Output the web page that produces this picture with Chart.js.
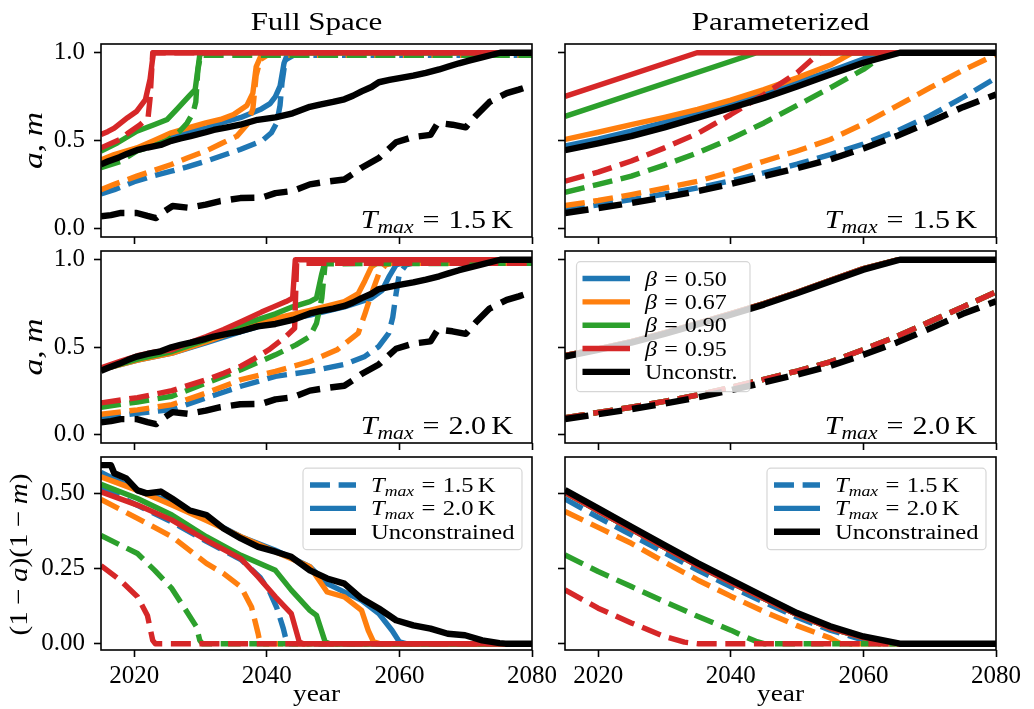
<!DOCTYPE html>
<html>
<head>
<meta charset="utf-8">
<script src="https://cdn.jsdelivr.net/npm/chart.js@4.4.1/dist/chart.umd.min.js"></script>
<style>
  html, body { margin: 0; padding: 0; background: #ffffff; }
  #wrap { position: relative; width: 1034px; height: 709px; overflow: hidden; background: #ffffff; }
  #wrap canvas { position: absolute; left: 0; top: 0; }
</style>
</head>
<body>
<div id="wrap">
  <canvas id="c0" width="1034" height="709"></canvas>
  <canvas id="c1" width="1034" height="709"></canvas>
  <canvas id="c2" width="1034" height="709"></canvas>
  <canvas id="c3" width="1034" height="709"></canvas>
  <canvas id="c4" width="1034" height="709"></canvas>
  <canvas id="c5" width="1034" height="709"></canvas>
</div>
<script>
// ---------- labels and ticks ----------
const X_TICKS = [2020, 2040, 2060, 2080];
const Y_TICKS_AM = [0, 0.5, 1.0];
const Y_TICKS_PROD = [0, 0.25, 0.5];
const BETA_LABELS = ['0.50', '0.67', '0.90', '0.95'];
const TMAX_LABELS = ['1.5', '2.0'];
const COLUMN_TITLES = ['Full Space', 'Parameterized'];
const BETA_COLORS = ['#1f77b4', '#ff7f0e', '#2ca02c', '#d62728'];
const UNC_COLOR = '#000000';

// ---------- Full space, T_max = 1.5 K  (solid: a, dashed: m) ----------
const full15_b050_solid = [[2015,.37],[2017,.40],[2020,.445],[2023,.49],[2025.6,.522],[2028,.548],[2030.8,.57],[2033,.6],[2036,.63],[2039.2,.68],[2040.5,.71],[2041.3,.75],[2042,.81],[2042.6,.94],[2043,.98],[2044,1],[2080,1]];
const full15_b050_dashed = [[2015,.196],[2017,.22],[2020,.265],[2023,.3],[2025.6,.325],[2028,.35],[2030.8,.382],[2033,.41],[2036,.449],[2039.2,.496],[2040.7,.544],[2041.5,.6],[2042,.7],[2042.3,.83],[2042.8,.96],[2044,.985],[2080,.985]];
const full15_b067_solid = [[2015,.39],[2017,.42],[2020.4,.458],[2023,.5],[2025.6,.544],[2028,.57],[2030.8,.6],[2033,.62],[2035,.648],[2037,.7],[2037.9,.77],[2038.4,.92],[2039.2,.99],[2040,1],[2080,1]];
const full15_b067_dashed = [[2015,.22],[2017,.25],[2020.4,.297],[2023,.33],[2025.6,.363],[2028,.4],[2030.8,.44],[2033,.48],[2035.5,.525],[2037,.59],[2037.9,.68],[2038.4,.87],[2039,.96],[2040,.985],[2080,.985]];
const full15_b090_solid = [[2015,.44],[2017.5,.487],[2020.4,.553],[2023,.59],[2025,.62],[2026.5,.68],[2028.2,.75],[2029.2,.79],[2029.9,.99],[2030.5,1],[2080,1]];
const full15_b090_dashed = [[2015,.345],[2017.9,.38],[2020.4,.44],[2023,.47],[2025,.5],[2026.8,.55],[2028,.6],[2028.9,.66],[2029.3,.72],[2029.6,.9],[2030,.985],[2080,.985]];
const full15_b095_solid = [[2015,.534],[2016,.55],[2017,.57],[2018,.6],[2019,.63],[2020.4,.667],[2021.7,.733],[2022.4,.85],[2022.9,1],[2080,1]];
const full15_b095_dashed = [[2015,.458],[2016,.475],[2017.9,.506],[2019,.54],[2020.9,.59],[2022.1,.63],[2022.4,.74],[2022.8,1],[2080,1]];

// ---------- Full space, T_max = 2.0 K ----------
const full20_b050_solid = [[2015,.37],[2020.5,.425],[2025.7,.465],[2030.9,.525],[2036.1,.588],[2041.3,.645],[2046.5,.683],[2051.7,.73],[2055.8,.78],[2057.4,.825],[2058.4,.9],[2059.5,.97],[2061,.99],[2062,1],[2080,1]];
const full20_b050_dashed = [[2015,.095],[2020.5,.12],[2025.7,.142],[2030.9,.209],[2036.1,.275],[2041.3,.332],[2046.5,.36],[2051.7,.4],[2054.8,.446],[2056.9,.503],[2058.4,.58],[2059,.67],[2059.5,.806],[2060,.92],[2061,.97],[2062,.98],[2080,.98]];
const full20_b067_solid = [[2015,.37],[2020.5,.425],[2025.7,.465],[2030.9,.53],[2036.1,.6],[2041.3,.664],[2046.5,.71],[2051.7,.76],[2053.8,.806],[2054.8,.88],[2055.8,.96],[2057,.99],[2058,1],[2080,1]];
const full20_b067_dashed = [[2015,.115],[2020.5,.14],[2025.7,.17],[2030.9,.237],[2036.1,.313],[2041.3,.36],[2046.5,.417],[2050.6,.484],[2053.8,.58],[2054.8,.69],[2055.8,.806],[2056.9,.92],[2057.9,.97],[2059,.98],[2080,.98]];
const full20_b090_solid = [[2015,.37],[2020.5,.43],[2025.7,.474],[2030.9,.54],[2036.1,.626],[2041.3,.69],[2043.9,.73],[2046.5,.76],[2047.5,.78],[2048.3,.92],[2048.8,.99],[2049.5,1],[2080,1]];
const full20_b090_dashed = [[2015,.155],[2020.5,.185],[2025.7,.218],[2030.9,.294],[2036.1,.37],[2041.3,.455],[2044.4,.512],[2046.5,.56],[2047.5,.636],[2048.3,.78],[2048.8,.977],[2080,.98]];
const full20_b095_solid = [[2015,.38],[2018,.42],[2020.5,.45],[2023,.47],[2025.7,.484],[2028,.52],[2030.9,.56],[2033.5,.6],[2036.1,.645],[2039.2,.7],[2041,.73],[2042.9,.76],[2043.9,.78],[2044.3,1],[2080,1]];
const full20_b095_dashed = [[2015,.18],[2020.5,.21],[2025.7,.25],[2030.9,.313],[2033.5,.35],[2036.1,.39],[2038,.43],[2040.3,.484],[2042.9,.56],[2044.2,.607],[2044.5,.98],[2080,.98]];

// ---------- Full space, unconstrained (same in both temperature rows) ----------
const full_unc_solid = [[2015,.364],[2016,.38],[2017.8,.405],[2019,.425],[2020.4,.445],[2022,.46],[2024,.475],[2025.6,.498],[2027,.512],[2028.5,.525],[2030.8,.547],[2032,.56],[2034,.575],[2036,.59],[2038.6,.618],[2041.3,.632],[2043.9,.655],[2046.5,.692],[2048,.705],[2050,.72],[2051.7,.735],[2053,.755],[2054.3,.78],[2055.8,.805],[2056.9,.832],[2058.5,.845],[2060,.856],[2062.1,.87],[2064,.886],[2066,.905],[2067.4,.922],[2069,.94],[2070.5,.955],[2072.6,.975],[2075.2,1],[2080,1]];
const full_unc_dashed = [[2015,.068],[2016.5,.075],[2018,.087],[2020.4,.087],[2022,.07],[2023.3,.058],[2024.5,.095],[2025.8,.127],[2028.2,.117],[2030.8,.135],[2033,.155],[2036,.172],[2039.2,.174],[2041.3,.2],[2043.9,.212],[2046.5,.25],[2049,.265],[2051.7,.278],[2053,.31],[2054.3,.345],[2056.9,.4],[2059.5,.49],[2062.1,.52],[2064.7,.532],[2065.8,.6],[2068,.59],[2070,.575],[2071.5,.64],[2073.6,.72],[2076.2,.77],[2078,.79],[2080,.815]];

// ---------- Full space, (1-a)(1-m) ----------
const fullProd_b050_15 = [[2015,.52],[2020.5,.46],[2025.7,.405],[2030.9,.34],[2036.1,.28],[2039,.22],[2040.5,.17],[2041.5,.12],[2042.5,.05],[2043,.005],[2043.5,0],[2080,0]];
const fullProd_b050_20 = [[2015,.57],[2020.5,.51],[2025.7,.47],[2030.9,.415],[2036.1,.356],[2041.3,.311],[2046.5,.256],[2049.1,.2],[2054.3,.144],[2056.9,.1],[2058.9,.044],[2060,.006],[2061,0],[2080,0]];
const fullProd_b067_15 = [[2015,.48],[2020.5,.417],[2025.7,.356],[2030.9,.267],[2033.5,.233],[2036.1,.189],[2037.7,.122],[2038.7,.033],[2039,0],[2080,0]];
const fullProd_b067_20 = [[2015,.555],[2020.5,.51],[2025.7,.461],[2030.9,.41],[2036.1,.356],[2041.3,.306],[2046.5,.256],[2049.1,.172],[2051.7,.156],[2054.3,.111],[2055.3,.044],[2056.1,.006],[2057,0],[2080,0]];
const fullProd_b090_15 = [[2015,.36],[2020.5,.3],[2023.1,.244],[2025.7,.183],[2027.8,.111],[2029.4,.056],[2029.9,.011],[2030.3,0],[2080,0]];
const fullProd_b090_20 = [[2015,.53],[2020.5,.483],[2025.7,.428],[2030.9,.356],[2036.1,.294],[2041.3,.244],[2043.7,.178],[2046.5,.111],[2047.5,.094],[2048.8,.006],[2049.5,0],[2080,0]];
const fullProd_b095_15 = [[2015,.26],[2017.9,.211],[2020.5,.156],[2022,.094],[2022.8,.011],[2023.2,0],[2080,0]];
const fullProd_b095_20 = [[2015,.505],[2020.5,.461],[2025.7,.411],[2030.9,.344],[2036.1,.283],[2038.7,.222],[2041.3,.156],[2043.7,.1],[2044.9,.006],[2045.5,0],[2080,0]];
const fullProd_unc = [[2015,.594],[2016.5,.594],[2017,.567],[2018.8,.55],[2020.5,.51],[2021.9,.5],[2024,.506],[2025.7,.483],[2028.3,.444],[2030.9,.428],[2033.5,.383],[2036.1,.35],[2038.7,.322],[2041.3,.306],[2043.7,.289],[2046.5,.244],[2049.1,.217],[2051.7,.2],[2054.3,.15],[2056.9,.117],[2059.5,.078],[2062.1,.061],[2064.7,.05],[2067.3,.033],[2069.9,.028],[2072.5,.011],[2075.1,.002],[2076,0],[2080,0]];

// ---------- Parameterized, T_max = 1.5 K ----------
const par15_b050_solid = [[2015,.468],[2020,.508],[2025,.553],[2030,.603],[2035,.658],[2040,.713],[2045,.772],[2050,.832],[2055,.895],[2060,.965],[2063,1],[2080,1]];
const par15_b050_dashed = [[2015,.106],[2020,.133],[2025,.163],[2030,.195],[2035,.23],[2040,.27],[2045,.316],[2050,.365],[2055,.42],[2060,.48],[2065,.553],[2070,.64],[2075,.745],[2080,.857]];
const par15_b067_solid = [[2015,.506],[2020,.547],[2025,.591],[2030,.632],[2035,.677],[2040,.73],[2045,.79],[2050,.857],[2055,.93],[2058.3,1],[2080,1]];
const par15_b067_dashed = [[2015,.129],[2020,.158],[2025,.192],[2030,.228],[2035,.268],[2040,.32],[2045,.382],[2050,.44],[2055,.506],[2060,.595],[2065,.696],[2070,.8],[2075,.9],[2080,.99]];
const par15_b090_solid = [[2015,.637],[2043.9,1],[2080,1]];
const par15_b090_dashed = [[2015,.205],[2020,.25],[2025,.297],[2030,.36],[2035,.43],[2040,.51],[2045,.6],[2050,.7],[2055,.8],[2060,.905],[2063.5,1],[2080,1]];
const par15_b095_solid = [[2015,.751],[2034.9,1],[2080,1]];
const par15_b095_dashed = [[2015,.268],[2020,.32],[2025,.383],[2030,.458],[2035,.54],[2040,.648],[2045,.762],[2050,.886],[2053.4,1],[2080,1]];

// ---------- Parameterized, T_max = 2.0 K (all beta values coincide) ----------
const par20_beta_solid = [[2015,.451],[2020,.489],[2025,.531],[2030,.581],[2035,.636],[2040,.691],[2045,.749],[2050,.814],[2055,.882],[2060,.949],[2065.3,1],[2080,1]];
const par20_beta_dashed = [[2015,.095],[2020,.125],[2025,.155],[2030,.188],[2035,.225],[2040,.268],[2045,.315],[2050,.362],[2055,.415],[2060,.485],[2065,.56],[2070,.645],[2075,.73],[2080,.815]];

// ---------- Parameterized, unconstrained ----------
const par_unc_solid = [[2015,.445],[2020,.483],[2025,.525],[2030,.575],[2035,.63],[2040,.685],[2045,.743],[2050,.808],[2055,.876],[2060,.943],[2065.5,1],[2080,1]];
const par_unc_dashed = [[2015,.087],[2020,.115],[2025,.144],[2030,.176],[2035,.211],[2040,.252],[2045,.297],[2050,.342],[2055,.392],[2060,.455],[2065,.525],[2070,.605],[2075,.69],[2080,.762]];

// ---------- Parameterized, (1-a)(1-m) ----------
const parProd_b050_15 = [[2015,.482],[2020,.42],[2025,.362],[2030,.303],[2035,.245],[2040,.19],[2045,.138],[2050,.088],[2055,.045],[2060,.012],[2063,0],[2080,0]];
const parProd_b067_15 = [[2015,.44],[2020,.387],[2025,.334],[2030,.272],[2035,.212],[2040,.158],[2045,.107],[2050,.06],[2055,.019],[2056.5,0],[2080,0]];
const parProd_b090_15 = [[2015,.295],[2020,.24],[2025,.19],[2030,.14],[2035,.091],[2040,.045],[2042,.024],[2043.8,.008],[2045,0],[2080,0]];
const parProd_b095_15 = [[2015,.179],[2020,.118],[2025,.069],[2030,.024],[2033,.005],[2035,0],[2080,0]];
const parProd_beta_20 = [[2015,.503],[2020,.442],[2025,.381],[2030,.32],[2035,.26],[2040,.204],[2045,.15],[2050,.097],[2055,.052],[2060,.02],[2065.3,0],[2080,0]];
const parProd_unc = [[2015,.511],[2020,.45],[2025,.389],[2030,.328],[2035,.268],[2040,.212],[2045,.157],[2050,.102],[2055,.058],[2060,.024],[2065.5,0],[2080,0]];

// ---------- layout ----------
const PAGE_W = 1034, PAGE_H = 709;
const COLS = [{ left: 101, right: 532 }, { left: 565, right: 996 }];
const ROWS = [{ top: 44, bottom: 237 }, { top: 251, bottom: 443 }, { top: 457, bottom: 650 }];
const Y_AXIS_W = 100, X_AXIS_H = 50;
const SERIF = '"Liberation Serif", "DejaVu Serif", serif';
const LW = 5.4, LW_BLACK = 6.4;

// text made of upright / italic pieces (math style labels)
function drawRich(ctx, parts, x, y, opt) {
  const base = opt.size;
  ctx.save();
  ctx.fillStyle = '#000';
  ctx.textBaseline = 'alphabetic';
  ctx.textAlign = 'left';
  let w = 0;
  const items = parts.map(p => {
    if (p.gap !== undefined) { w += p.gap * base; return { gap: p.gap * base }; }
    const size = (p.scale || 1) * base;
    const font = (p.it ? 'italic ' : '') + size.toFixed(2) + 'px ' + SERIF;
    ctx.font = font;
    const pw = ctx.measureText(p.t).width;
    w += pw;
    return { t: p.t, font, pw, dy: (p.dy || 0) * base };
  });
  ctx.translate(x, y);
  if (opt.rot) ctx.rotate(opt.rot);
  ctx.scale(opt.sx || 1, 1);
  let cx = opt.align === 'right' ? -w : (opt.align === 'center' ? -w / 2 : 0);
  items.forEach(it => {
    if (it.gap !== undefined) { cx += it.gap; return; }
    ctx.font = it.font;
    ctx.fillText(it.t, cx, it.dy);
    cx += it.pw;
  });
  ctx.restore();
}

const tmaxParts = v => [{ t: 'T', it: true }, { t: 'max', it: true, scale: 0.72, dy: 0.2 }, { gap: 0.3 }, { t: '=' }, { gap: 0.3 }, { t: v }, { gap: 0.17 }, { t: 'K' }];
const betaParts = v => [{ t: '\u03b2', it: true }, { gap: 0.3 }, { t: '=' }, { gap: 0.3 }, { t: v }];
const amParts = [{ t: 'a', it: true }, { t: ',' }, { gap: 0.22 }, { t: 'm', it: true }];
const prodParts = [{ t: '(1' }, { gap: 0.22 }, { t: '\u2212' }, { gap: 0.22 }, { t: 'a', it: true }, { t: ')(1' }, { gap: 0.22 }, { t: '\u2212' }, { gap: 0.22 }, { t: 'm', it: true }, { t: ')' }];

function drawLegend(ctx, lg) {
  ctx.save();
  ctx.beginPath();
  ctx.roundRect(lg.x, lg.y, lg.w, lg.h, 4);
  ctx.fillStyle = 'rgba(255,255,255,0.8)';
  ctx.fill();
  ctx.strokeStyle = 'rgba(204,204,204,0.8)';
  ctx.lineWidth = 1.2;
  ctx.stroke();
  lg.rows.forEach((r, i) => {
    const yy = lg.y + lg.first + i * lg.pitch;
    ctx.beginPath();
    ctx.moveTo(lg.x + lg.hx0, yy);
    ctx.lineTo(lg.x + lg.hx1, yy);
    ctx.strokeStyle = r.color;
    ctx.lineWidth = r.lw;
    ctx.lineCap = 'butt';
    ctx.setLineDash(r.dash || []);
    ctx.stroke();
    ctx.setLineDash([]);
    drawRich(ctx, r.parts, lg.x + lg.tx, yy + lg.textDy, { size: lg.size, sx: lg.sx });
  });
  ctx.restore();
}

const decorPlugin = {
  id: 'decor',
  afterDraw(chart, args, o) {
    const ctx = chart.ctx, a = chart.chartArea;
    ctx.save();
    ctx.strokeStyle = '#000';
    ctx.lineWidth = 1.6;
    ctx.strokeRect(a.left, a.top, a.right - a.left, a.bottom - a.top);
    ctx.restore();
    (o.texts || []).forEach(t => drawRich(ctx, t.parts, t.x, t.y, t));
    if (o.legend) drawLegend(ctx, o.legend);
  }
};

function lineDataset(points, color, dashed, idx) {
  const w = color === UNC_COLOR ? LW_BLACK : LW;
  return {
    data: points.map(p => ({ x: p[0], y: p[1] })),
    borderColor: color,
    backgroundColor: color,
    borderWidth: w,
    borderDash: dashed ? [w * 3.7, w * 1.6] : [],
    borderJoinStyle: 'round',
    borderCapStyle: 'butt',
    pointRadius: 0,
    fill: false,
    tension: 0,
    clip: 0,
    order: -idx
  };
}

function legendBeta(col, row) {
  const rows = BETA_LABELS.map((b, i) => ({ color: BETA_COLORS[i], lw: LW, parts: betaParts(b) }));
  rows.push({ color: UNC_COLOR, lw: LW_BLACK, parts: [{ t: 'Unconstr.' }] });
  return { x: COLS[col].left + 11.5, y: ROWS[row].top + 10.7, w: 173.5, h: 130, first: 16.8, pitch: 23.35,
           hx0: 6, hx1: 53.5, tx: 68.5, textDy: 7, size: 20.5, sx: 1.17, rows };
}
function legendTmax(col, row) {
  const rows = [
    { color: BETA_COLORS[0], lw: LW, dash: [LW * 3.7, LW * 1.6], parts: tmaxParts(TMAX_LABELS[0]) },
    { color: BETA_COLORS[0], lw: LW, parts: tmaxParts(TMAX_LABELS[1]) },
    { color: UNC_COLOR, lw: LW_BLACK, parts: [{ t: 'Unconstrained' }] }
  ];
  return { x: COLS[col].right - 229, y: ROWS[row].top + 11.2, w: 219, h: 81.5, first: 16.8, pitch: 23.35,
           hx0: 7, hx1: 53, tx: 68, textDy: 7, size: 20.5, sx: 1.2, rows };
}

function makePanel(id, col, row, cfg) {
  const C = COLS[col], R = ROWS[row];
  const datasets = cfg.lines.map((l, i) => lineDataset(l[0], l[1], l[2], i));
  const texts = [];
  const midX = (C.left + C.right) / 2, midY = (R.top + R.bottom) / 2;
  if (row === 0) texts.push({ parts: [{ t: COLUMN_TITLES[col] }], x: midX, y: 29.5, size: 25, sx: 1.24, align: 'center' });
  if (row === 2) texts.push({ parts: [{ t: 'year' }], x: midX, y: 701, size: 24, sx: 1.14, align: 'center' });
  if (col === 0 && row < 2) texts.push({ parts: amParts, x: 42, y: midY, size: 28, sx: 1.2, align: 'center', rot: -Math.PI / 2 });
  if (col === 0 && row === 2) texts.push({ parts: prodParts, x: 27, y: midY + 1, size: 26, sx: 1.12, align: 'center', rot: -Math.PI / 2 });
  if (row < 2) texts.push({ parts: tmaxParts(TMAX_LABELS[row]), x: C.right - 19, y: R.bottom - 9.5, size: 25.5, sx: 1.18, align: 'right' });

  const yTicks = row === 2 ? Y_TICKS_PROD : Y_TICKS_AM;
  const yDec = row === 2 ? 2 : 1;
  const gridCfg = { drawOnChartArea: false, drawTicks: true, tickLength: 7, tickWidth: 1.6, tickColor: '#000', color: '#000' };
  return new Chart(document.getElementById(id), {
    type: 'line',
    data: { datasets },
    plugins: [decorPlugin],
    options: {
      responsive: false,
      devicePixelRatio: 1,
      animation: false,
      events: [],
      layout: { padding: { left: C.left - Y_AXIS_W, top: R.top, right: PAGE_W - C.right, bottom: PAGE_H - R.bottom - X_AXIS_H } },
      scales: {
        x: {
          type: 'linear', min: 2015, max: 2080,
          afterBuildTicks: s => { s.ticks = X_TICKS.map(v => ({ value: v })); },
          afterFit: s => { s.height = X_AXIS_H; },
          grid: gridCfg,
          border: { display: false },
          ticks: { display: row === 2, autoSkip: false, maxRotation: 0, color: '#000', padding: 4,
                   font: { family: SERIF, size: 25 }, callback: v => String(v) }
        },
        y: {
          type: 'linear', min: cfg.yMin, max: cfg.yMax,
          afterBuildTicks: s => { s.ticks = yTicks.map(v => ({ value: v })); },
          afterFit: s => { s.width = Y_AXIS_W; },
          grid: gridCfg,
          border: { display: false },
          ticks: { display: col === 0, autoSkip: false, color: '#000', padding: 9,
                   font: { family: SERIF, size: 25 }, callback: v => Number(v).toFixed(yDec) }
        }
      },
      plugins: {
        legend: { display: false },
        tooltip: { enabled: false },
        decor: { texts, legend: cfg.legend || null }
      }
    }
  });
}

const [B, O, G, Rd] = BETA_COLORS;
const K = UNC_COLOR;
const AM_MIN = -0.05, AM_MAX = 1.05, PROD_MIN = -0.021, PROD_MAX = 0.621;

makePanel('c0', 0, 0, { yMin: AM_MIN, yMax: AM_MAX, lines: [
  [full15_b050_solid, B, false], [full15_b050_dashed, B, true],
  [full15_b067_solid, O, false], [full15_b067_dashed, O, true],
  [full15_b090_solid, G, false], [full15_b090_dashed, G, true],
  [full15_b095_solid, Rd, false], [full15_b095_dashed, Rd, true],
  [full_unc_solid, K, false], [full_unc_dashed, K, true]] });

makePanel('c1', 1, 0, { yMin: AM_MIN, yMax: AM_MAX, lines: [
  [par15_b050_solid, B, false], [par15_b050_dashed, B, true],
  [par15_b067_solid, O, false], [par15_b067_dashed, O, true],
  [par15_b090_solid, G, false], [par15_b090_dashed, G, true],
  [par15_b095_solid, Rd, false], [par15_b095_dashed, Rd, true],
  [par_unc_solid, K, false], [par_unc_dashed, K, true]] });

makePanel('c2', 0, 1, { yMin: AM_MIN, yMax: AM_MAX, lines: [
  [full20_b050_solid, B, false], [full20_b050_dashed, B, true],
  [full20_b067_solid, O, false], [full20_b067_dashed, O, true],
  [full20_b090_solid, G, false], [full20_b090_dashed, G, true],
  [full20_b095_solid, Rd, false], [full20_b095_dashed, Rd, true],
  [full_unc_solid, K, false], [full_unc_dashed, K, true]] });

makePanel('c3', 1, 1, { yMin: AM_MIN, yMax: AM_MAX, legend: legendBeta(1, 1), lines: [
  [par20_beta_solid, B, false], [par20_beta_dashed, B, true],
  [par20_beta_solid, O, false], [par20_beta_dashed, O, true],
  [par20_beta_solid, G, false], [par20_beta_dashed, G, true],
  [par20_beta_solid, Rd, false], [par20_beta_dashed, Rd, true],
  [par_unc_solid, K, false], [par_unc_dashed, K, true]] });

makePanel('c4', 0, 2, { yMin: PROD_MIN, yMax: PROD_MAX, legend: legendTmax(0, 2), lines: [
  [fullProd_b050_15, B, true], [fullProd_b050_20, B, false],
  [fullProd_b067_15, O, true], [fullProd_b067_20, O, false],
  [fullProd_b090_15, G, true], [fullProd_b090_20, G, false],
  [fullProd_b095_15, Rd, true], [fullProd_b095_20, Rd, false],
  [fullProd_unc, K, false]] });

makePanel('c5', 1, 2, { yMin: PROD_MIN, yMax: PROD_MAX, legend: legendTmax(1, 2), lines: [
  [parProd_b050_15, B, true], [parProd_beta_20, B, false],
  [parProd_b067_15, O, true], [parProd_beta_20, O, false],
  [parProd_b090_15, G, true], [parProd_beta_20, G, false],
  [parProd_b095_15, Rd, true], [parProd_beta_20, Rd, false],
  [parProd_unc, K, false]] });
</script>
</body>
</html>
